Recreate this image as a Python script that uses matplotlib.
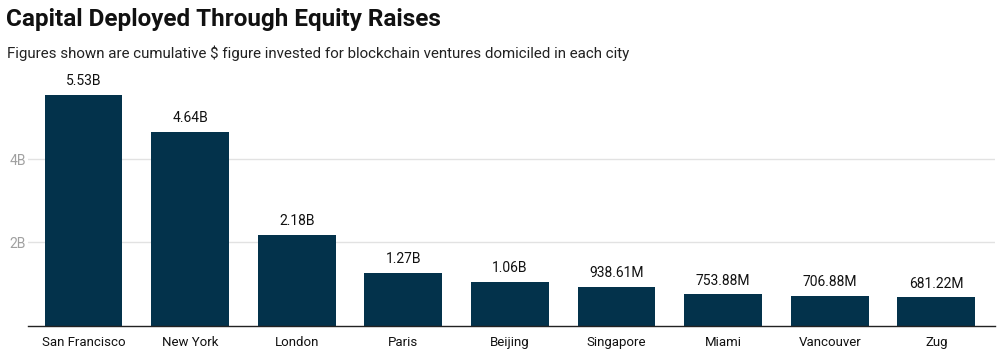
import matplotlib.pyplot as plt

cities = ["San Francisco", "New York", "London", "Paris", "Beijing",
          "Singapore", "Miami", "Vancouver", "Zug"]
raised = [5.53e9, 4.64e9, 2.18e9, 1.27e9, 1.06e9,
          938.61e6, 753.88e6, 706.88e6, 681.22e6]
labels = ["5.53B", "4.64B", "2.18B", "1.27B", "1.06B",
          "938.61M", "753.88M", "706.88M", "681.22M"]

plt.rcParams["font.family"] = ["Roboto", "DejaVu Sans"]

fig = plt.figure(figsize=(10, 3.55), dpi=100)
ax = fig.add_axes([0.028, 0.082, 0.967, 0.693])

x = range(len(cities))
ax.bar(x, raised, width=0.73, color="#03324b", zorder=2)
for i, (v, t) in enumerate(zip(raised, labels)):
    ax.annotate(t, (i, v), xytext=(0, 5), textcoords="offset points",
                ha="center", va="bottom", fontsize=10, color="#111111")

ax.set_xlim(-0.52, 8.55)
ax.set_ylim(0, 5.9e9)
ax.set_yticks([2e9, 4e9])
ax.set_yticklabels(["2B", "4B"])
ax.set_xticks(list(x))
ax.set_xticklabels(cities, fontsize=9.5, color="#111111")
ax.grid(axis="y", color="#e2e2e2", linewidth=1, zorder=0)
ax.tick_params(axis="y", length=0, labelsize=10, labelcolor="#a0a0a0", pad=-2)
ax.tick_params(axis="x", length=0, pad=7)
for s in ["top", "right", "left"]:
    ax.spines[s].set_visible(False)
ax.spines["bottom"].set_color("#222222")
ax.spines["bottom"].set_linewidth(1)
for lbl in ax.get_yticklabels():
    lbl.set_horizontalalignment("left")
    lbl.set_x(-0.022)

fig.text(0.006, 0.945, "Capital Deployed Through Equity Raises",
         fontsize=17.5, fontweight="bold", va="center", color="#111111")
fig.text(0.007, 0.85,
         "Figures shown are cumulative $ figure invested for blockchain ventures domiciled in each city",
         fontsize=10.9, va="center", color="#222222")

fig.savefig("out.png", dpi=100)
